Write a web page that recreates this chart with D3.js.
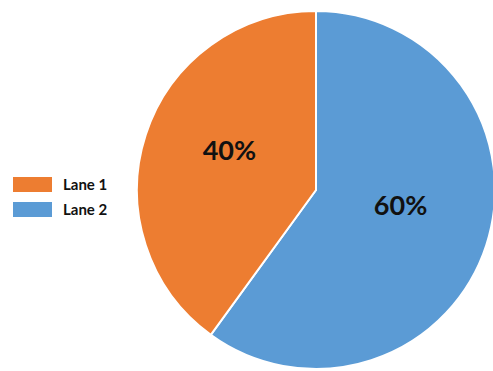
<!DOCTYPE html>
<html><head><meta charset="utf-8">
<script src="https://cdn.jsdelivr.net/npm/d3@7"></script>
<style>body{margin:0;background:#fff;}svg{display:block;}</style>
</head><body>
<svg id="c" width="493" height="371"></svg>
<script>
const categories = ["Lane 1", "Lane 2"];
const values = [40, 60];
const labels = ["40%", "60%"];
const colors = ["#ED7D31", "#5B9BD5"];

const svg = d3.select("#c");
const cx = 316, cy = 190, r = 179;
const g = svg.append("g").attr("transform", `translate(${cx},${cy})`);

const pie = d3.pie().sort(null).startAngle(0).endAngle(2 * Math.PI);
const order = [1, 0];
const arcs = pie(order.map(i => values[i]));
const arc = d3.arc().innerRadius(0).outerRadius(r);
const labelArc = d3.arc().innerRadius(90).outerRadius(90);

arcs.forEach((a, k) => {
  const i = order[k];
  g.append("path").attr("d", arc(a)).attr("fill", colors[i])
    .attr("stroke", "#fff").attr("stroke-width", 2);
});
arcs.forEach((a, k) => {
  const i = order[k];
  const [x, y] = labelArc.centroid(a);
  g.append("text").attr("x", x - 1).attr("y", y - 13)
    .attr("text-anchor", "middle").attr("dominant-baseline", "central")
    .attr("font-family", "Lato, 'Open Sans', sans-serif").attr("font-weight", "bold")
    .attr("font-size", 27).attr("fill", "#111").text(labels[i]);
});

const leg = svg.append("g");
categories.forEach((c, i) => {
  const y = 177 + i * 25;
  leg.append("rect").attr("x", 13).attr("y", y).attr("width", 39).attr("height", 15).attr("fill", colors[i]);
  leg.append("text").attr("x", 63).attr("y", y + 12.5)
    .attr("font-family", "Lato, 'Open Sans', sans-serif").attr("font-weight", "bold")
    .attr("font-size", 15).attr("fill", "#111").text(c);
});
</script>
</body></html>
